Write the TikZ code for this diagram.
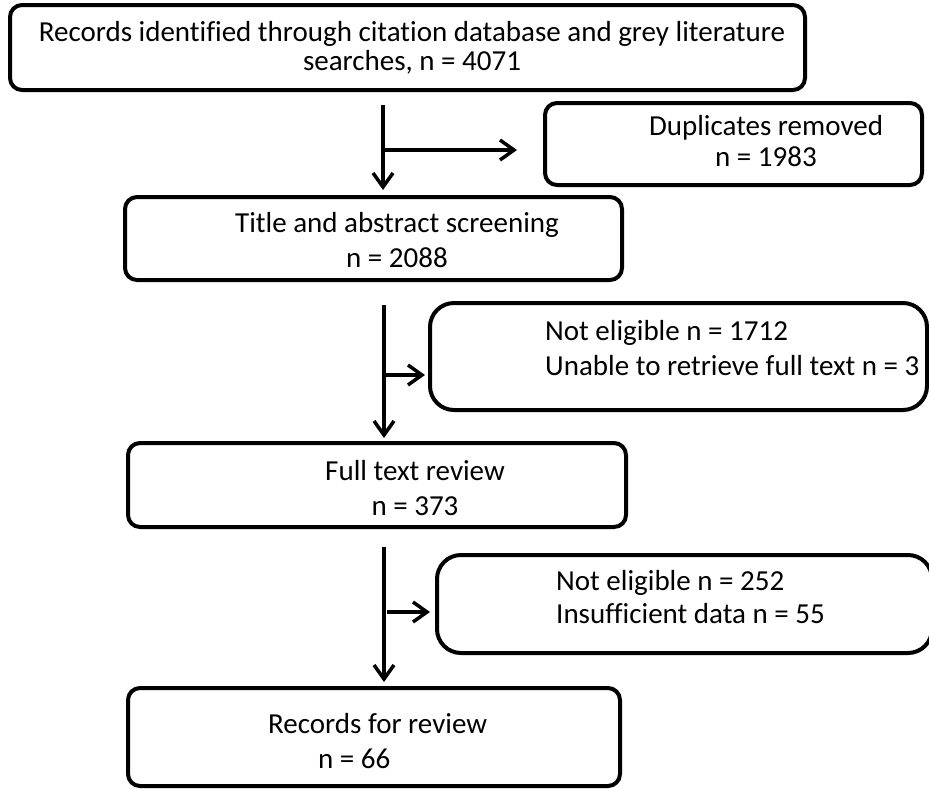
\documentclass[tikz,border=0pt]{standalone}
\usepackage{fontspec}
\setmainfont{Carlito}[Ligatures=NoCommon]
\usetikzlibrary{positioning, arrows.meta}
\tikzset{
	box/.style={draw, line width=4pt, rounded corners=12pt, inner sep=0pt},
	sidebox/.style={box, rounded corners=24pt},
	txt/.style={inner sep=0pt, anchor=base, align=center},
	arrow/.style={line width=3.5pt, -{Straight Barb[length=14pt, width=20pt]}},
}

\begin{document}
\begin{tikzpicture}[x=1pt, y=-1pt]
	\useasboundingbox (0,0) rectangle (929,788);

	% boxes
	\node[box, minimum width=795pt, minimum height=85pt] (ident) at (407.5,47.5) {};
	\node[box, minimum width=377pt, minimum height=82pt] (dup) at (733.5,144) {};
	\node[box, minimum width=497pt, minimum height=83pt] (title) at (373.5,238.5) {};
	\node[sidebox, minimum width=497pt, minimum height=107pt] (excl1) at (678.5,356.5) {};
	\node[box, minimum width=498pt, minimum height=84pt] (full) at (377,485) {};
	\node[sidebox, minimum width=495pt, minimum height=98pt] (excl2) at (684.5,604) {};
	\node[box, minimum width=492pt, minimum height=98pt] (final) at (374,737) {};

	% texts (base = last line)
	\node[txt, font=\fontsize{29}{29}\selectfont] (identtxt) at (412,70)
		{Records identified through citation database and grey literature\\searches, n = 4071};
	\node[txt, font=\fontsize{29}{31}\selectfont] (duptxt) at (766,166)
		{Duplicates removed\\n = 1983};
	\node[txt, font=\fontsize{29}{35}\selectfont] (titletxt) at (397,267)
		{Title and abstract screening\\n = 2088};
	\node[txt, anchor=base west, align=left, font=\fontsize{29}{35}\selectfont] (excl1txt) at (545,375)
		{Not eligible n = 1712\\Unable to retrieve full text n = 3};
	\node[txt, font=\fontsize{29}{35}\selectfont] (fulltxt) at (415,515)
		{Full text review\\n = 373};
	\node[txt, anchor=base west, align=left, font=\fontsize{29}{33}\selectfont] (excl2txt) at (556,623)
		{Not eligible n = 252\\Insufficient data n = 55};
	\node[txt, anchor=base west, align=left, font=\fontsize{29}{35}\selectfont] (finaltxt) at (268,768)
		{Records for review\\\hspace*{50pt}n = 66};

	% arrows
	\coordinate (c1) at (383,105);
	\coordinate (b1) at (383,150);
	\coordinate (c2) at (384,305);
	\coordinate (b2) at (384,375);
	\coordinate (c3) at (384,547);
	\coordinate (b3) at (387,612);

	\draw[arrow, shorten >=5pt] (c1) -- (c1 |- title.north);
	\draw[arrow, shorten >=26pt] (b1) -- (b1 -| dup.west);
	\draw[arrow, shorten >=3pt] (c2) -- (c2 |- full.north);
	\draw[arrow, shorten >=3pt] (b2) -- (b2 -| excl1.west);
	\draw[arrow, shorten >=4pt] (c3) -- (c3 |- final.north);
	\draw[arrow, shorten >=5pt] (b3) -- (b3 -| excl2.west);
\end{tikzpicture}
\end{document}
